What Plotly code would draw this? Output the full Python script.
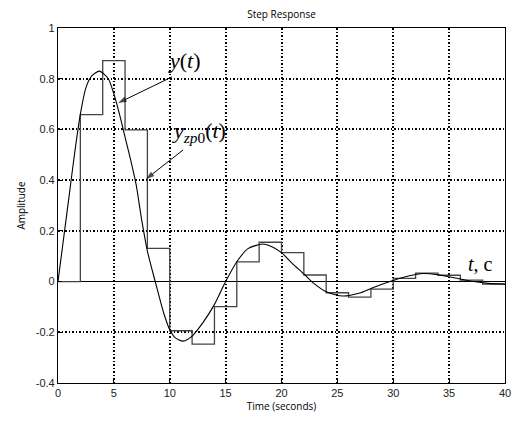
import plotly.graph_objects as go

# Continuous step response y(t)
t_cont = [0, 0.5, 1.0, 1.5, 2.0, 2.5, 3.0, 3.7, 4.5, 5.0, 5.5, 6.0, 6.5, 7.0, 7.5, 8.0,
          8.7, 9.5, 10.0, 10.5, 11.2, 12.0, 13.0, 14.0, 15.0, 16.0, 17.0, 18.3, 19.0,
          20.0, 21.0, 22.0, 22.7, 24.0, 25.5, 27.0, 28.0, 29.7, 31.0, 32.7, 34.0, 35.7,
          37.2, 38.5, 40.0]
y_cont = [0.0, 0.17, 0.34, 0.51, 0.66, 0.765, 0.81, 0.83, 0.80, 0.74, 0.66, 0.57, 0.48,
          0.38, 0.24, 0.12, 0.0, -0.13, -0.19, -0.222, -0.235, -0.215, -0.16, -0.09, 0.0,
          0.078, 0.13, 0.148, 0.14, 0.114, 0.07, 0.03, 0.0, -0.04, -0.057, -0.045, -0.027,
          0.0, 0.018, 0.032, 0.027, 0.013, 0.0, -0.007, -0.01]

# Zero-order-hold samples (T = 2 s)
t_zoh = [0, 2, 4, 6, 8, 10, 12, 14, 16, 18, 20, 22, 24, 26, 28, 30, 32, 34, 36, 38, 40]
y_zoh = [0.0, 0.658, 0.871, 0.598, 0.131, -0.194, -0.247, -0.099, 0.078, 0.155, 0.114,
         0.026, -0.044, -0.061, -0.030, 0.013, 0.033, 0.025, 0.006, -0.010, -0.010]

# Arrow pointers (tail -> head) for the curve labels
arrow_y_x = [10.2, 5.37]
arrow_y_y = [0.807, 0.704]
arrow_zp_x = [11.19, 7.87]
arrow_zp_y = [0.519, 0.404]

x_ticks = [0, 5, 10, 15, 20, 25, 30, 35, 40]
y_ticks = [-0.4, -0.2, 0, 0.2, 0.4, 0.6, 0.8, 1]
y_ticklabels = ["-0.4", "-0.2", "0", "0.2", "0.4", "0.6", "0.8", "1"]

fig = go.Figure()
fig.add_trace(go.Scatter(x=t_zoh, y=y_zoh, mode="lines", line=dict(color="#444444", width=1.3, shape="hv"),
                         showlegend=False, hoverinfo="skip"))
fig.add_trace(go.Scatter(x=t_cont, y=y_cont, mode="lines", line=dict(color="black", width=1.1, shape="spline", smoothing=0.7),
                         showlegend=False, hoverinfo="skip"))
for ax_, ay_ in [(arrow_y_x, arrow_y_y), (arrow_zp_x, arrow_zp_y)]:
    fig.add_trace(go.Scatter(x=ax_, y=ay_, mode="lines+markers", line=dict(color="black", width=1),
                             marker=dict(symbol="arrow", size=[0, 9], angleref="previous", color="black",
                                         line=dict(width=0)),
                             showlegend=False, hoverinfo="skip"))

serif = "Liberation Serif"
ann = []
ann.append(dict(x=11.36, y=0.87, xref="x", yref="y", text="<i>y</i>(<i>t</i>)", showarrow=False,
                font=dict(family=serif, size=22, color="black")))
ann.append(dict(x=12.6, y=0.59, xref="x", yref="y",
                text="<i>y</i><sub><i>zp</i>0</sub>(<i>t</i>)", showarrow=False,
                font=dict(family=serif, size=22, color="black")))
ann.append(dict(x=37.8, y=0.068, xref="x", yref="y", text="<i>t</i>, c", showarrow=False,
                font=dict(family=serif, size=20, color="black")))

grid_dash = "1.5px,2px"
fig.update_layout(
    width=512, height=423,
    margin=dict(l=58, r=7, t=28, b=40),
    paper_bgcolor="white", plot_bgcolor="white",
    title=dict(text="Step Response", x=0.5, xref="paper", y=1 - 14 / 423, yref="container",
               xanchor="center", yanchor="middle", font=dict(family="Open Sans", size=10, color="black")),
    annotations=ann,
    xaxis=dict(range=[0, 40], tickvals=x_ticks, showgrid=True, gridcolor="black", griddash=grid_dash,
               gridwidth=1.5, showline=True, linecolor="black", linewidth=1.2, mirror=True, zeroline=False,
               ticks="inside", ticklen=4, tickcolor="black",
               tickfont=dict(family="Liberation Sans", size=11, color="#222"),
               title=dict(text="Time (seconds)", standoff=4, font=dict(family="Open Sans", size=10, color="black")),
               automargin=False),
    yaxis=dict(range=[-0.4, 1], tickvals=y_ticks, ticktext=y_ticklabels, showgrid=True, gridcolor="black",
               griddash=grid_dash, gridwidth=1.5, showline=True, linecolor="black", linewidth=1.2, mirror=True,
               zeroline=True, zerolinecolor="black", zerolinewidth=1.2,
               ticks="inside", ticklen=4, tickcolor="black",
               tickfont=dict(family="Liberation Sans", size=11, color="#222"),
               title=dict(text="Amplitude", standoff=8, font=dict(family="Open Sans", size=10, color="black")),
               automargin=False),
)

fig.write_html("out.html")
